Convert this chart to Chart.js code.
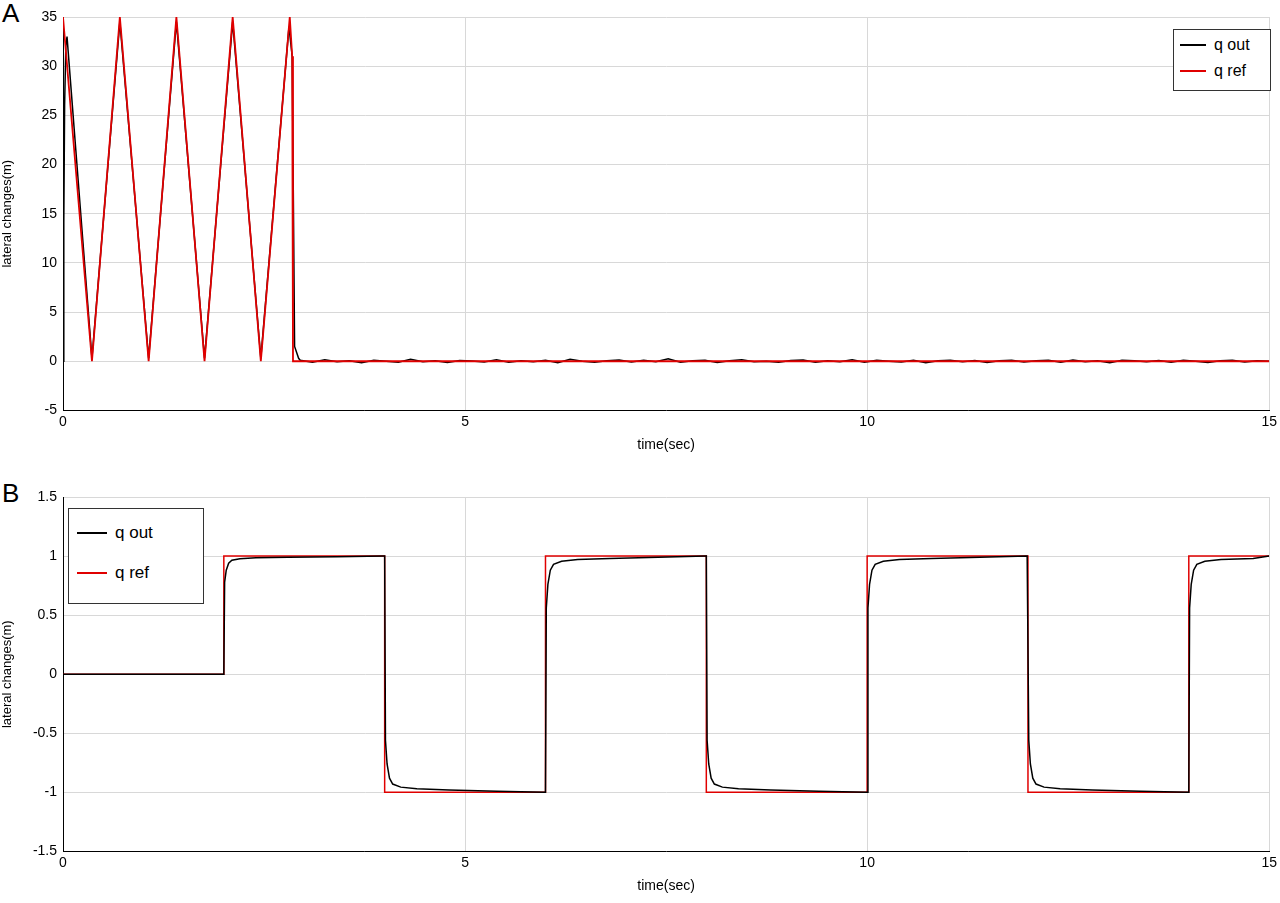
<!DOCTYPE html>
<html><head><meta charset="utf-8">
<script src="https://cdn.jsdelivr.net/npm/chart.js@4/dist/chart.umd.min.js"></script>
<style>
body{margin:0;background:#fff;font-family:"Liberation Sans",Arial,sans-serif;}
.lab{position:absolute;font-size:26px;}
.cv{position:absolute;}
.leg{position:absolute;border:1px solid #333;background:#fff;font-size:16px;}
.leg div{display:flex;align-items:center;}
.leg i{display:inline-block;height:1.5px;margin-right:8px;}
</style></head><body>
<div class="lab" style="left:2px;top:-2px">A</div>
<div class="lab" style="left:2px;top:478px">B</div>
<div class="cv" style="left:0;top:0;width:1280px;height:465px"><canvas id="c1"></canvas></div>
<div class="cv" style="left:0;top:480px;width:1280px;height:419px"><canvas id="c2"></canvas></div>
<div class="leg" style="left:1173px;top:29px;width:84px;height:56px;padding:2px 6px;">
 <div style="height:26px"><i style="width:26px;background:#000"></i>q out</div>
 <div style="height:26px"><i style="width:26px;background:#e00000"></i>q ref</div>
</div>
<div class="leg" style="left:68px;top:508px;width:118px;height:86px;padding:4px 8px;font-size:17px">
 <div style="height:40px"><i style="width:30px;background:#000"></i>q out</div>
 <div style="height:40px"><i style="width:30px;background:#e00000"></i>q ref</div>
</div>
<script>
// Panel A
const refA_t = [0, 0.36, 0.707, 1.065, 1.41, 1.76, 2.11, 2.46, 2.82, 2.85, 2.86, 15];
const refA_y = [35, 0, 35, 0, 35, 0, 35, 0, 35, 31, 0, 0];
const outA_t = [0, 0.01, 0.02, 0.035, 0.05, 0.36, 0.707, 1.065, 1.41, 1.76, 2.11, 2.46, 2.81, 2.85, 2.88, 2.93];
const outA_y = [0, 14, 26, 32, 33, 0.3, 34.5, 0.3, 34.5, 0.3, 34.5, 0.3, 34, 31, 1.5, 0.3];
const noiseA = [0.1,-0.1,0.15,-0.05,0.05,-0.15,0.1,0,-0.1,0.2,-0.05,0.05,-0.12,0.08,0.02,-0.08,0.15,-0.1,0.05,-0.05,
 0.1,-0.15,0.2,0,-0.1,0.05,0.12,-0.08,0.1,-0.05,0.25,-0.1,0.05,0.1,-0.12,0.05,0.15,-0.05,0,-0.1,
 0.08,0.12,-0.1,0.05,-0.05,0.15,-0.1,0.1,0,-0.08,0.1,-0.15,0.05,0.1,-0.05,0.08,-0.12,0.05,0.1,-0.08,
 0.05,0.1,-0.1,0.12,-0.05,0.05,-0.15,0.1,0.05,-0.05,0.08,-0.1,0.1,0,-0.12,0.05,0.1,-0.08,0.05,0];
// Panel B
const refB_t = [0, 2, 4, 6, 8, 10, 12, 14, 15];
const refB_y = [0, 1, -1, 1, -1, 1, -1, 1, 1];
const stepDt = [0, 0.01, 0.03, 0.06, 0.1, 0.2, 0.4, 0.8, 1.4, 1.99];
const stepFrac = [0, 0.78, 0.88, 0.94, 0.965, 0.978, 0.985, 0.99, 0.995, 1.0];

const refA = refA_t.map((t,i)=>({x:t,y:refA_y[i]}));
const outA = outA_t.map((t,i)=>({x:t,y:outA_y[i]}));
const nStart = 2.95, nEnd = 15;
noiseA.forEach((v,i)=>outA.push({x:nStart+(nEnd-nStart)*i/(noiseA.length-1),y:v}));

const refB=[], outB=[];
for(let i=0;i<refB_t.length-1;i++){
  refB.push({x:refB_t[i],y:refB_y[i]});
  refB.push({x:refB_t[i+1],y:refB_y[i]});
}
outB.push({x:0,y:0});
for(let i=1;i<refB_t.length-1;i++){
  const t0=refB_t[i], from=refB_y[i-1], to=refB_y[i];
  stepDt.forEach((d,k)=>{ const t=t0+d; if(t<=15) outB.push({x:t,y:from+(to-from)*stepFrac[k]}); });
}
outB.push({x:15,y:1});

const font={family:'"Liberation Sans",Arial,sans-serif',size:14};
function opts(ymin,ymax,step,pad){
 return {responsive:true,maintainAspectRatio:false,animation:false,
  layout:{padding:pad},
  plugins:{legend:{display:false},tooltip:{enabled:false}},
  elements:{point:{radius:0},line:{tension:0}},
  scales:{
   x:{type:'linear',min:0,max:15,
     ticks:{stepSize:5,color:'#000',font},
     grid:{color:'#d8d8d8',drawTicks:false},
     border:{color:'#000'},
     title:{display:true,text:'time(sec)',color:'#000',font:{...font,size:14}}},
   y:{min:ymin,max:ymax,
     afterFit:(s)=>{s.width=63;},
     ticks:{stepSize:step,color:'#000',font,padding:6,callback:(v)=>String(v)},
     grid:{color:'#d8d8d8',drawTicks:false},
     border:{color:'#000'},
     title:{display:true,text:'lateral changes(m)',color:'#000',font:{...font,size:13},padding:0}}
  }};
}
new Chart(document.getElementById('c1'),{type:'line',
 data:{datasets:[
  {data:refA,borderColor:'#e00000',borderWidth:1.8},
  {data:outA,borderColor:'#000',borderWidth:1.5}]},
 options:opts(-5,35,5,{top:17,right:8,left:0,bottom:7})});
new Chart(document.getElementById('c2'),{type:'line',
 data:{datasets:[
  {data:outB,borderColor:'#000',borderWidth:1.5},
  {data:refB,borderColor:'#e00000',borderWidth:1.5}]},
 options:opts(-1.5,1.5,0.5,{top:17,right:8,left:0,bottom:0})});
</script>
</body></html>
